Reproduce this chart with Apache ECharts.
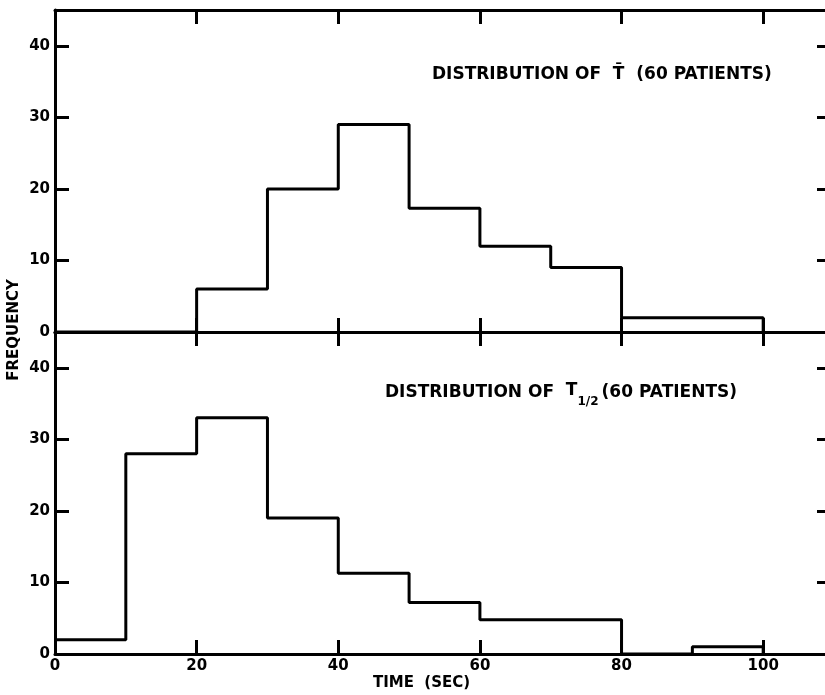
<!DOCTYPE html>
<html>
<head>
<meta charset="utf-8">
<script src="https://cdn.jsdelivr.net/npm/echarts@6/dist/echarts.min.js"></script>
<style>html,body{margin:0;padding:0;background:#fff}#c{width:825px;height:695px}</style>
</head>
<body>
<div id="c"></div>
<script>
// ---- data ----
var binEdges = [0, 10, 20, 30, 40, 50, 60, 70, 80, 90, 100];
var tBarFreq = [0, 0, 6, 20, 29, 17.3, 12, 9, 2, 2];      // Distribution of T-bar
var tHalfFreq = [2, 28, 33, 19, 11.3, 7.2, 4.8, 4.8, 0, 1]; // Distribution of T1/2
var xTickValues = [20, 40, 60, 80, 100];
var xLabelValues = [0, 20, 40, 60, 80, 100];
var yTickValues = [0, 10, 20, 30, 40];
var topTitle = 'DISTRIBUTION OF  T\u0304  (60 PATIENTS)';
var xName = 'TIME  (SEC)';
var yName = 'FREQUENCY';

function stepPoints(edges, freqs) {
  var pts = [];
  for (var i = 0; i < freqs.length; i++) pts.push([edges[i], freqs[i]]);
  pts.push([edges[freqs.length], 0]);
  return pts;
}

var FONT = 'DejaVu Sans';
var axisLineStyle = { color: '#000', width: 3 };
var tickStyle = { color: '#000', width: 3 };
var grids = [
  { left: 55, width: 779, top: 10, height: 322, outerBoundsMode: 'none', containLabel: false },
  { left: 55, width: 779, top: 332, height: 322, outerBoundsMode: 'none', containLabel: false }
];

var xAxes = [], yAxes = [];
[0, 1].forEach(function (g) {
  // bottom x axis
  xAxes.push({
    type: 'value', gridIndex: g, position: 'bottom', min: 0, max: 110,
    axisLine: { show: true, onZero: false, lineStyle: axisLineStyle },
    axisTick: { show: true, inside: true, length: 14, lineStyle: tickStyle, customValues: xTickValues },
    axisLabel: {
      show: g === 1, customValues: xLabelValues, margin: 5,
      color: '#000', fontFamily: FONT, fontWeight: 'bold', fontSize: 15
    },
    splitLine: { show: false },
    name: g === 1 ? xName : '',
    nameLocation: 'middle', nameGap: 22,
    nameTextStyle: { color: '#000', fontFamily: FONT, fontWeight: 'bold', fontSize: 15, padding: [0, 46, 0, 0] }
  });
  // top x axis
  xAxes.push({
    type: 'value', gridIndex: g, position: 'top', min: 0, max: 110,
    axisLine: { show: true, onZero: false, lineStyle: axisLineStyle },
    axisTick: { show: true, inside: true, length: 14, lineStyle: tickStyle, customValues: xTickValues },
    axisLabel: { show: false },
    splitLine: { show: false }
  });
  // left y axis
  yAxes.push({
    type: 'value', gridIndex: g, position: 'left', min: 0, max: 45,
    axisLine: { show: true, onZero: false, lineStyle: axisLineStyle },
    axisTick: { show: true, inside: true, length: 14, lineStyle: tickStyle, customValues: yTickValues },
    axisLabel: {
      show: true, customValues: yTickValues, margin: 5,
      color: '#000', fontFamily: FONT, fontWeight: 'bold', fontSize: 15
    },
    splitLine: { show: false }
  });
  // right y axis
  yAxes.push({
    type: 'value', gridIndex: g, position: 'right', min: 0, max: 45,
    axisLine: { show: true, onZero: false, lineStyle: axisLineStyle },
    axisTick: { show: true, inside: true, length: 17, lineStyle: tickStyle, customValues: yTickValues },
    axisLabel: { show: false },
    splitLine: { show: false }
  });
});

var option = {
  backgroundColor: '#fff',
  animation: false,
  grid: grids,
  xAxis: xAxes,
  yAxis: yAxes,
  title: [
    {
      text: topTitle, left: 432, top: 65, padding: 0,
      textStyle: { color: '#000', fontFamily: FONT, fontWeight: 'bold', fontSize: 17, lineHeight: 20 }
    },
    {
      text: 'DISTRIBUTION OF  {t|T}{s|1/2}{r|(60 PATIENTS)}', left: 385, top: 383, padding: 0,
      textStyle: {
        color: '#000', fontFamily: FONT, fontWeight: 'bold', fontSize: 17, lineHeight: 20,
        rich: {
          t: { color: '#000', fontFamily: FONT, fontWeight: 'bold', fontSize: 17, verticalAlign: 'middle', padding: [0, 0, 5, 0] },
          s: { color: '#000', fontFamily: FONT, fontWeight: 'bold', fontSize: 12, verticalAlign: 'middle', padding: [17, 3, 0, 0] },
          r: { color: '#000', fontFamily: FONT, fontWeight: 'bold', fontSize: 17, verticalAlign: 'middle' }
        }
      }
    }
  ],
  graphic: [
    {
      type: 'text', x: 14, y: 330, rotation: Math.PI / 2,
      style: {
        text: yName, fill: '#000', font: 'bold 15px "DejaVu Sans"',
        align: 'center', verticalAlign: 'middle'
      }
    }
  ],
  series: [
    {
      type: 'line', xAxisIndex: 0, yAxisIndex: 0, step: 'end', symbol: 'none',
      lineStyle: { color: '#000', width: 3 }, data: stepPoints(binEdges, tBarFreq)
    },
    {
      type: 'line', xAxisIndex: 2, yAxisIndex: 2, step: 'end', symbol: 'none',
      lineStyle: { color: '#000', width: 3 }, data: stepPoints(binEdges, tHalfFreq)
    }
  ]
};

echarts.init(document.getElementById('c'), null, { renderer: 'canvas' }).setOption(option);
</script>
</body>
</html>
